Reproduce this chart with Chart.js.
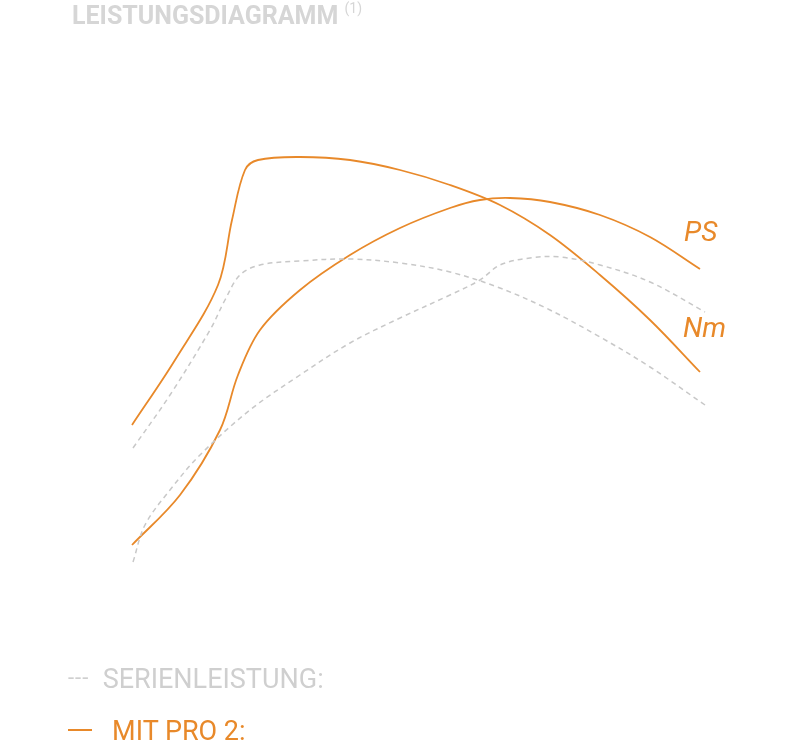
<!DOCTYPE html>
<html><head><meta charset="utf-8">
<script src="https://cdn.jsdelivr.net/npm/chart.js"></script>
<style>
html,body{margin:0;padding:0;background:#fff;width:805px;height:746px;overflow:hidden;font-family:Roboto,sans-serif}
#wrap{position:absolute;left:0;top:0;width:805px;height:746px}
.t{position:absolute;white-space:nowrap}
</style></head><body>
<div id="wrap"><canvas id="c" width="805" height="746"></canvas></div>
<div class="t" style="left:72px;top:0px;font-size:25px;font-weight:bold;color:#d6d6d6">LEISTUNGSDIAGRAMM <sup style="font-size:14px;font-weight:normal;vertical-align:11px">(1)</sup></div>
<div class="t" style="left:684px;top:215px;font-size:28px;font-style:italic;color:#e8892a">PS</div>
<div class="t" style="left:683px;top:311px;font-size:28px;font-style:italic;color:#e8892a">Nm</div>
<div class="t" style="left:68px;top:663px;font-size:27px;color:#cfcfcf"><span style="letter-spacing:1px;font-size:22px;vertical-align:3px">---</span>&nbsp; SERIENLEISTUNG:</div>
<div class="t" style="left:68px;top:715px;font-size:27px;color:#e8892a"><span style="display:inline-block;width:24px;height:2px;background:#e8892a;vertical-align:9px"></span>&nbsp;&nbsp; MIT PRO 2:</div>
<script>
const H = 746;
const proNmX = [132,175,218,232,245,258,300,350,400,450,500,550,600,650,700];
const proNmY = [425,360,285,220,170,160,157,160,170,185,205,235,275,320,372];
const proPsX = [132,180,220,238,260,300,350,400,450,480,510,550,600,650,700];
const proPsY = [545,495,430,375,330,290,255,228,208,200,198,202,215,237,269];
const serNmX = [133,170,210,225,240,260,300,350,400,450,500,550,600,650,705];
const serNmY = [448,395,330,300,275,265,261,259,263,272,288,310,337,367,405];
const serPsX = [133,145,170,200,250,300,350,400,450,480,500,530,560,600,650,705];
const serPsY = [562,525,490,455,410,375,343,318,295,280,265,258,257,265,282,312];
const pts = (xs,ys)=>xs.map((x,i)=>({x:x,y:H-ys[i]}));
const orange='#e8892a', gray='#c8c8c8';
new Chart(document.getElementById('c'),{
 type:'line',
 data:{datasets:[
  {data:pts(serNmX,serNmY),borderColor:gray,borderDash:[5,4],borderWidth:1.5},
  {data:pts(serPsX,serPsY),borderColor:gray,borderDash:[5,4],borderWidth:1.5},
  {data:pts(proNmX,proNmY),borderColor:orange,borderWidth:1.8},
  {data:pts(proPsX,proPsY),borderColor:orange,borderWidth:1.8}
 ]},
 options:{responsive:false,animation:false,
  layout:{padding:0},
  elements:{point:{radius:0},line:{tension:0.35,fill:false}},
  plugins:{legend:{display:false},tooltip:{enabled:false}},
  scales:{x:{type:'linear',min:0,max:805,display:false},y:{type:'linear',min:0,max:746,display:false}}
 }
});
</script>
</body></html>
